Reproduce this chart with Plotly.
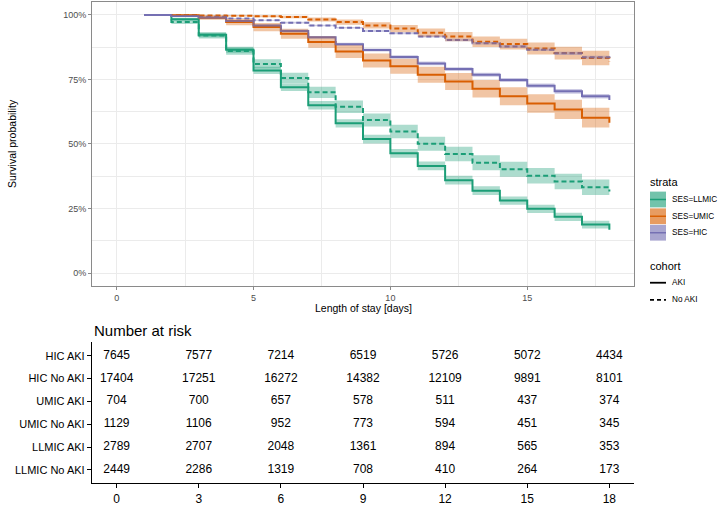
import plotly.graph_objects as go

# ---------------- data ----------------
days = list(range(1, 19))

hic_aki = [100, 99.6, 98.9, 97.6, 95.9, 93.8, 91.3, 88.6, 86.4, 83.7, 81.2, 79.0, 76.8, 74.8, 72.6, 70.4, 68.5, 67.0]
hic_noaki = [100, 99.7, 99.3, 98.6, 97.9, 97.0, 95.9, 95.0, 93.8, 92.9, 91.6, 90.3, 89.0, 87.8, 86.5, 85.1, 83.6, 83.3]
umic_aki = [100, 99.9, 98.9, 97.2, 95.3, 92.7, 89.5, 85.8, 82.3, 80.1, 76.8, 74.2, 71.4, 68.5, 65.7, 63.4, 60.2, 58.2]
umic_noaki = [100, 100, 99.8, 99.7, 99.5, 99.2, 98.2, 97.2, 95.9, 94.7, 93.1, 91.6, 89.6, 88.7, 87.0, 85.2, 83.3, 81.8]
llmic_aki = [100, 98.3, 92.3, 86.5, 78.5, 72.0, 65.0, 58.0, 51.9, 46.4, 41.5, 36.0, 31.9, 28.1, 24.9, 21.8, 18.8, 16.8]
llmic_noaki = [100, 97.2, 92.0, 86.0, 81.0, 75.6, 70.0, 64.4, 59.3, 54.8, 50.1, 46.1, 42.7, 40.2, 37.7, 35.5, 33.2, 31.6]

# confidence half-widths (percentage points)
hic_aki_ci = [0, 0.1, 0.2, 0.3, 0.4, 0.5, 0.5, 0.6, 0.6, 0.7, 0.7, 0.7, 0.8, 0.8, 0.8, 0.9, 0.9, 0.9]
hic_noaki_ci = [0, 0.1, 0.1, 0.2, 0.2, 0.3, 0.3, 0.3, 0.4, 0.4, 0.4, 0.5, 0.5, 0.5, 0.5, 0.6, 0.6, 0.6]
umic_aki_ci = [0, 0.3, 0.8, 1.2, 1.6, 1.9, 2.2, 2.5, 2.7, 2.9, 3.1, 3.3, 3.4, 3.5, 3.6, 3.7, 3.8, 3.8]
umic_noaki_ci = [0, 0, 0.2, 0.3, 0.4, 0.5, 0.8, 1.0, 1.2, 1.4, 1.6, 1.8, 2.0, 2.1, 2.3, 2.5, 2.8, 3.0]
llmic_aki_ci = [0, 0.6, 1.0, 1.2, 1.4, 1.5, 1.6, 1.6, 1.7, 1.7, 1.7, 1.7, 1.7, 1.6, 1.6, 1.6, 1.5, 1.5]
llmic_noaki_ci = [0, 0.7, 1.1, 1.4, 1.8, 2.0, 2.2, 2.4, 2.5, 2.6, 2.7, 2.8, 2.9, 2.9, 3.0, 3.0, 3.0, 3.0]

y_tickvals = [0, 25, 50, 75, 100]
y_ticktext = ["0%", "25%", "50%", "75%", "100%"]
x_tickvals = [0, 5, 10, 15]

# number at risk table
risk_times = [0, 3, 6, 9, 12, 15, 18]
risk_rows = ["HIC AKI", "HIC No AKI", "UMIC AKI", "UMIC No AKI", "LLMIC AKI", "LLMIC No AKI"]
risk_hic_aki = [7645, 7577, 7214, 6519, 5726, 5072, 4434]
risk_hic_noaki = [17404, 17251, 16272, 14382, 12109, 9891, 8101]
risk_umic_aki = [704, 700, 657, 578, 511, 437, 374]
risk_umic_noaki = [1129, 1106, 952, 773, 594, 451, 345]
risk_llmic_aki = [2789, 2707, 2048, 1361, 894, 565, 353]
risk_llmic_noaki = [2449, 2286, 1319, 708, 410, 264, 173]

strata_labels = ["SES=LLMIC", "SES=UMIC", "SES=HIC"]
cohort_labels = ["AKI", "No AKI"]

# ---------------- styling ----------------
GREEN = "#1B9E77"
ORANGE = "#D95F02"
PURPLE = "#7570B3"
FONT = "Liberation Sans, Arial, sans-serif"
W, H = 719, 506


def rgba(hexc, a):
    h = hexc.lstrip("#")
    return "rgba(%d,%d,%d,%.2f)" % (int(h[0:2], 16), int(h[2:4], 16), int(h[4:6], 16), a)


def px(x):
    return x / W


def py(y):
    return 1 - y / H


curves = [
    (llmic_aki, llmic_aki_ci, GREEN, "solid"),
    (llmic_noaki, llmic_noaki_ci, GREEN, "dash"),
    (umic_aki, umic_aki_ci, ORANGE, "solid"),
    (umic_noaki, umic_noaki_ci, ORANGE, "dash"),
    (hic_aki, hic_aki_ci, PURPLE, "solid"),
    (hic_noaki, hic_noaki_ci, PURPLE, "dash"),
]

fig = go.Figure()

# lines
for vals, ci, col, dash in curves:
    fig.add_trace(go.Scatter(
        x=days, y=vals, mode="lines", line=dict(color=col, width=2, shape="hv",
                                                dash="5px,3px" if dash == "dash" else "solid"),
        xaxis="x", yaxis="y", showlegend=False, hoverinfo="skip"))

# confidence bands
for vals, ci, col, dash in curves:
    up = [v + c for v, c in zip(vals, ci)]
    lo = [v - c for v, c in zip(vals, ci)]
    fig.add_trace(go.Scatter(x=days, y=up, mode="lines", line=dict(width=0, shape="hv", color=col),
                             xaxis="x", yaxis="y", showlegend=False, hoverinfo="skip"))
    fig.add_trace(go.Scatter(x=days, y=lo, mode="lines", line=dict(width=0, shape="hv", color=col),
                             fill="tonexty", fillcolor=rgba(col, 0.36),
                             xaxis="x", yaxis="y", showlegend=False, hoverinfo="skip"))

# risk table text
risk_data = [risk_hic_aki, risk_hic_noaki, risk_umic_aki, risk_umic_noaki, risk_llmic_aki, risk_llmic_noaki]
for i, row in enumerate(risk_data):
    fig.add_trace(go.Scatter(
        x=risk_times, y=[i] * len(risk_times), mode="text",
        text=[str(v) for v in row], textposition="middle center",
        textfont=dict(family=FONT, size=12, color="black"),
        xaxis="x2", yaxis="y2", showlegend=False, hoverinfo="skip"))

xdom = [px(92), px(634)]
GRID = "#EBEBEB"
TICKC = "#4D4D4D"

fig.update_layout(
    width=W, height=H,
    margin=dict(l=0, r=0, t=0, b=0),
    paper_bgcolor="white", plot_bgcolor="white",
    font=dict(family=FONT, color="black"),
    showlegend=False,
    xaxis=dict(domain=xdom, anchor="y", range=[-0.9, 18.9],
               tickmode="array", tickvals=x_tickvals, showgrid=True, gridcolor=GRID, gridwidth=1,
               minor=dict(tickvals=[2.5, 7.5, 12.5, 17.5], showgrid=True, gridcolor=GRID, gridwidth=0.6),
               zeroline=False, showline=True, mirror=True, linecolor="#8A8A8A", linewidth=1,
               ticks="outside", ticklen=3, tickcolor="#8A8A8A",
               tickfont=dict(size=9, color=TICKC)),
    yaxis=dict(domain=[py(290), py(2)], anchor="x", range=[-5, 105],
               tickmode="array", tickvals=y_tickvals, ticktext=y_ticktext,
               showgrid=True, gridcolor=GRID, gridwidth=1,
               minor=dict(tickvals=[12.5, 37.5, 62.5, 87.5], showgrid=True, gridcolor=GRID, gridwidth=0.6),
               zeroline=False, showline=True, mirror=True, linecolor="#8A8A8A", linewidth=1,
               ticks="outside", ticklen=3, tickcolor="#8A8A8A",
               tickfont=dict(size=9, color=TICKC)),
    xaxis2=dict(domain=xdom, anchor="y2", range=[-0.9, 18.9],
                tickmode="array", tickvals=risk_times, showgrid=False, zeroline=False,
                showline=True, linecolor="black", linewidth=1.3,
                ticks="outside", ticklen=4, tickcolor="black",
                tickfont=dict(size=12, color="black")),
    yaxis2=dict(domain=[py(490), py(347)], anchor="x2", range=[5.58, -0.59],
                tickmode="array", tickvals=list(range(len(risk_rows))), ticktext=risk_rows,
                showgrid=False, zeroline=False,
                showline=True, linecolor="black", linewidth=1.3,
                ticks="outside", ticklen=4, tickcolor="black",
                tickfont=dict(size=11, color="black")),
)

annotations = [
    dict(text="Survival probability", x=px(12), y=py(146), xref="paper", yref="paper",
         textangle=-90, showarrow=False, font=dict(size=10.5, color="black"),
         xanchor="center", yanchor="middle"),
    dict(text="Length of stay [days]", x=px(363), y=py(312), xref="paper", yref="paper",
         showarrow=False, font=dict(size=10.5, color="black"), xanchor="center", yanchor="middle"),
    dict(text="Number at risk", x=px(92), y=py(335), xref="paper", yref="paper",
         showarrow=False, font=dict(size=15, color="black"), xanchor="left", yanchor="middle"),
    dict(text="strata", x=px(648), y=py(185), xref="paper", yref="paper",
         showarrow=False, font=dict(size=11, color="black"), xanchor="left", yanchor="middle"),
    dict(text="cohort", x=px(648), y=py(270), xref="paper", yref="paper",
         showarrow=False, font=dict(size=11, color="black"), xanchor="left", yanchor="middle"),
]

shapes = []
strata_cols = [GREEN, ORANGE, PURPLE]
strata_y = [202.3, 219.3, 236.0]
for lab, col, yc in zip(strata_labels, strata_cols, strata_y):
    shapes.append(dict(type="rect", xref="paper", yref="paper",
                       x0=px(650), x1=px(666), y0=py(yc + 8), y1=py(yc - 8),
                       fillcolor=rgba(col, 0.62), line=dict(width=0)))
    shapes.append(dict(type="line", xref="paper", yref="paper",
                       x0=px(650), x1=px(666), y0=py(yc), y1=py(yc),
                       line=dict(color=col, width=1.5)))
    annotations.append(dict(text=lab, x=px(670), y=py(yc), xref="paper", yref="paper",
                            showarrow=False, font=dict(size=8.2, color="black"),
                            xanchor="left", yanchor="middle"))

cohort_y = [286.7, 304.0]
for lab, yc, dash in zip(cohort_labels, cohort_y, ["solid", "4px,3px"]):
    shapes.append(dict(type="line", xref="paper", yref="paper",
                       x0=px(650), x1=px(666), y0=py(yc), y1=py(yc),
                       line=dict(color="black", width=1.8, dash=dash)))
    annotations.append(dict(text=lab, x=px(670), y=py(yc), xref="paper", yref="paper",
                            showarrow=False, font=dict(size=8.2, color="black"),
                            xanchor="left", yanchor="middle"))

fig.update_layout(annotations=annotations, shapes=shapes)
fig.write_html("out.html", config={"displayModeBar": False},
               post_script="document.body.style.margin='0';")
